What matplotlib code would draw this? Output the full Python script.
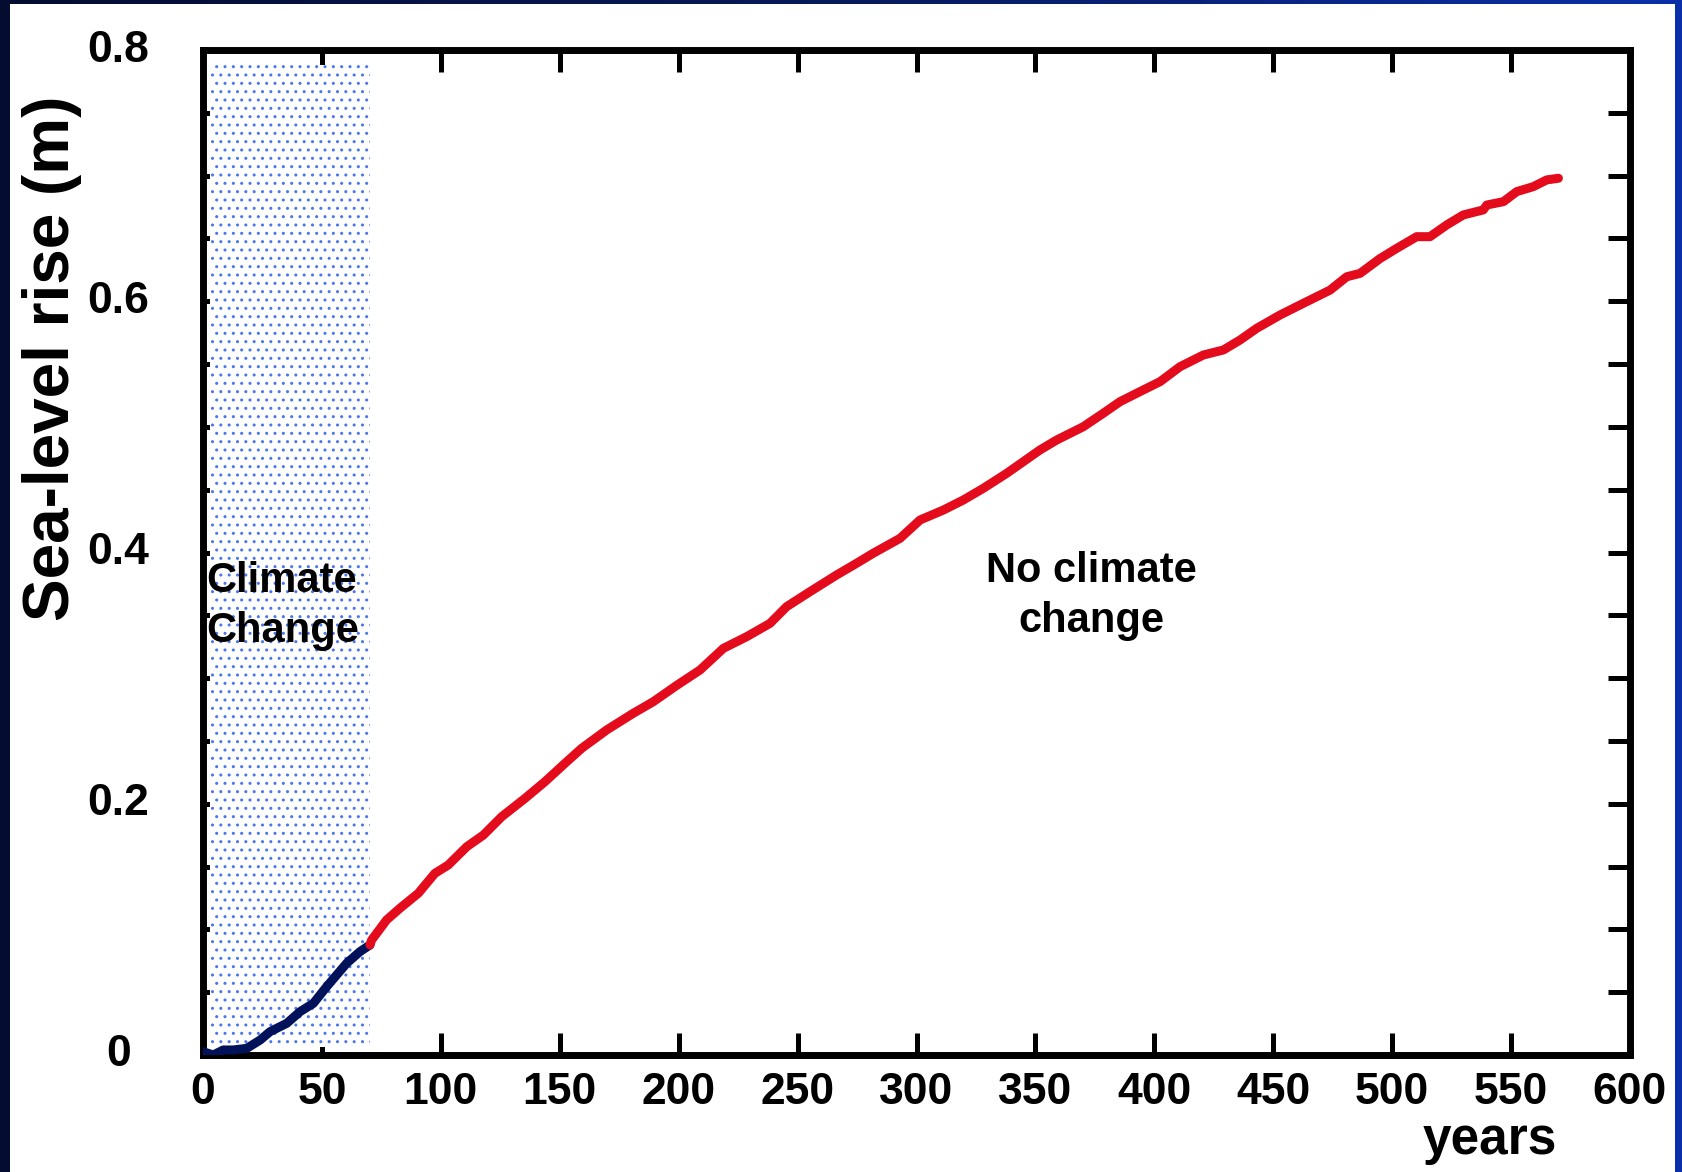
import matplotlib
matplotlib.use("Agg")
import matplotlib.pyplot as plt
from matplotlib.patches import Rectangle
from matplotlib.ticker import MultipleLocator
import numpy as np

plt.rcParams['font.family'] = ['Liberation Sans', 'DejaVu Sans']
plt.rcParams['font.weight'] = 'bold'
plt.rcParams['hatch.linewidth'] = 1.0

# climate change period (years 0-70)
cc_years = [0.1, 4.3, 8.5, 12.7, 18.4, 24.0, 28.2, 35.2, 40.8, 46.4, 52.0,
            60.4, 66.0, 70.2]
cc_rise = [0.0026, 0.0, 0.004, 0.004, 0.0053, 0.0119, 0.0186, 0.0252, 0.0345,
           0.0411, 0.0544, 0.0730, 0.0823, 0.0876]

# no climate change afterwards
ncc_years = [70.2, 70.9, 77.2, 82.8, 90.5, 97.5, 103.1, 110.9, 117.9, 125.6,
             135.4, 143.8, 152.2, 159.2, 169.7, 180.9, 189.3, 199.0, 209.0,
             218.8, 228.6, 238.4, 245.4, 255.2, 266.4, 274.8, 281.8, 293.1,
             301.5, 311.3, 319.7, 328.1, 337.9, 351.9, 358.9, 370.1, 378.5,
             385.6, 393.9, 402.4, 410.8, 420.6, 429.0, 436.0, 443.0, 452.8,
             462.6, 473.9, 480.9, 486.5, 494.9, 501.9, 510.3, 515.9, 522.9,
             529.9, 538.3, 539.8, 546.8, 552.4, 559.3, 565.0, 569.9]
ncc_rise = [0.0876, 0.0915, 0.1075, 0.1168, 0.1287, 0.1446, 0.1512, 0.1658,
            0.1751, 0.1897, 0.2043, 0.2176, 0.2322, 0.2441, 0.2587, 0.2720,
            0.2812, 0.2940, 0.3065, 0.3237, 0.3330, 0.3436, 0.3569, 0.3688,
            0.3821, 0.3914, 0.3994, 0.4113, 0.4259, 0.4338, 0.4418, 0.4511,
            0.4630, 0.4816, 0.4895, 0.5001, 0.5108, 0.5201, 0.5280, 0.5360,
            0.5479, 0.5572, 0.5612, 0.5691, 0.5784, 0.5890, 0.5983, 0.6089,
            0.6195, 0.6222, 0.6340, 0.6421, 0.6514, 0.6514, 0.6607, 0.6687,
            0.6727, 0.6766, 0.6793, 0.6873, 0.6912, 0.6966, 0.6979]

x_ticks = list(range(0, 601, 50))
y_ticks = [0, 0.2, 0.4, 0.6, 0.8]
y_ticklabels = ['0', '0.2', '0.4', '0.6', '0.8']

W, H = 1682, 1172
fig = plt.figure(figsize=(W / 100, H / 100), dpi=100)

# slide background: dark blue gradient with a white panel
bg = fig.add_axes([0, 0, 1, 1], zorder=-1)
grad = np.linspace(0, 1, 256).reshape(1, -1)
bg.imshow(grad, extent=[0, 1, 0, 1], aspect='auto',
          cmap=matplotlib.colors.LinearSegmentedColormap.from_list(
              'bgblue', ['#040c30', '#071a5a', '#0b2fa8']))
bg.add_patch(Rectangle((10 / W, 0), (1675 - 10) / W, 1 - 4 / H,
                       transform=bg.transAxes, facecolor='white',
                       edgecolor='none'))
bg.set_xlim(0, 1)
bg.set_ylim(0, 1)
bg.axis('off')

ax = fig.add_axes([203 / W, 1 - 1055 / H, (1630 - 203) / W, (1055 - 50) / H])
ax.set_facecolor('white')

# dotted region for the climate change period
ax.add_patch(Rectangle((3.0, 0.006), 67.2, 0.782, facecolor='white',
                       edgecolor='#4a76ee', hatch='..', linewidth=0,
                       zorder=2))

ax.plot(cc_years, cc_rise, color='#02125a', linewidth=6.5,
        solid_capstyle='round', zorder=3)
ax.plot(ncc_years, ncc_rise, color='#e30b1c', linewidth=6.5,
        solid_capstyle='round', zorder=3)

ax.set_xlim(0, 600)
ax.set_ylim(0, 0.8)
ax.set_xticks(x_ticks)
ax.set_xticklabels([str(v) for v in x_ticks])
ax.set_yticks(y_ticks)
ax.set_yticklabels(y_ticklabels)
ax.yaxis.set_minor_locator(MultipleLocator(0.05))

for s in ax.spines.values():
    s.set_linewidth(5)
ax.tick_params(which='both', direction='in', top=True, right=True,
               length=16, width=3.6, color='black')
ax.tick_params(axis='x', labelsize=32, pad=12)
ax.tick_params(axis='y', labelsize=32, pad=61)
for lab in ax.get_yticklabels():
    lab.set_horizontalalignment('center')
    lab.set_verticalalignment('center')

ax.text(1.3, 0.3686, 'Climate', fontsize=30, fontweight='bold',
        ha='left', va='baseline', zorder=4)
ax.text(1.3, 0.3288, 'Change', fontsize=30, fontweight='bold',
        ha='left', va='baseline', zorder=4)
ax.text(373.7, 0.3765, 'No climate', fontsize=30, fontweight='bold',
        ha='center', va='baseline')
ax.text(373.7, 0.3367, 'change', fontsize=30, fontweight='bold',
        ha='center', va='baseline')

fig.text(52 / W, 1 - 358 / H, 'Sea-level rise (m)', rotation=90,
         fontsize=46, fontweight='bold', ha='center', va='center')
fig.text(1490 / W, 1 - 1154 / H, 'years', fontsize=37, fontweight='bold',
         ha='center', va='baseline')

fig.savefig('out.png', dpi=100)
